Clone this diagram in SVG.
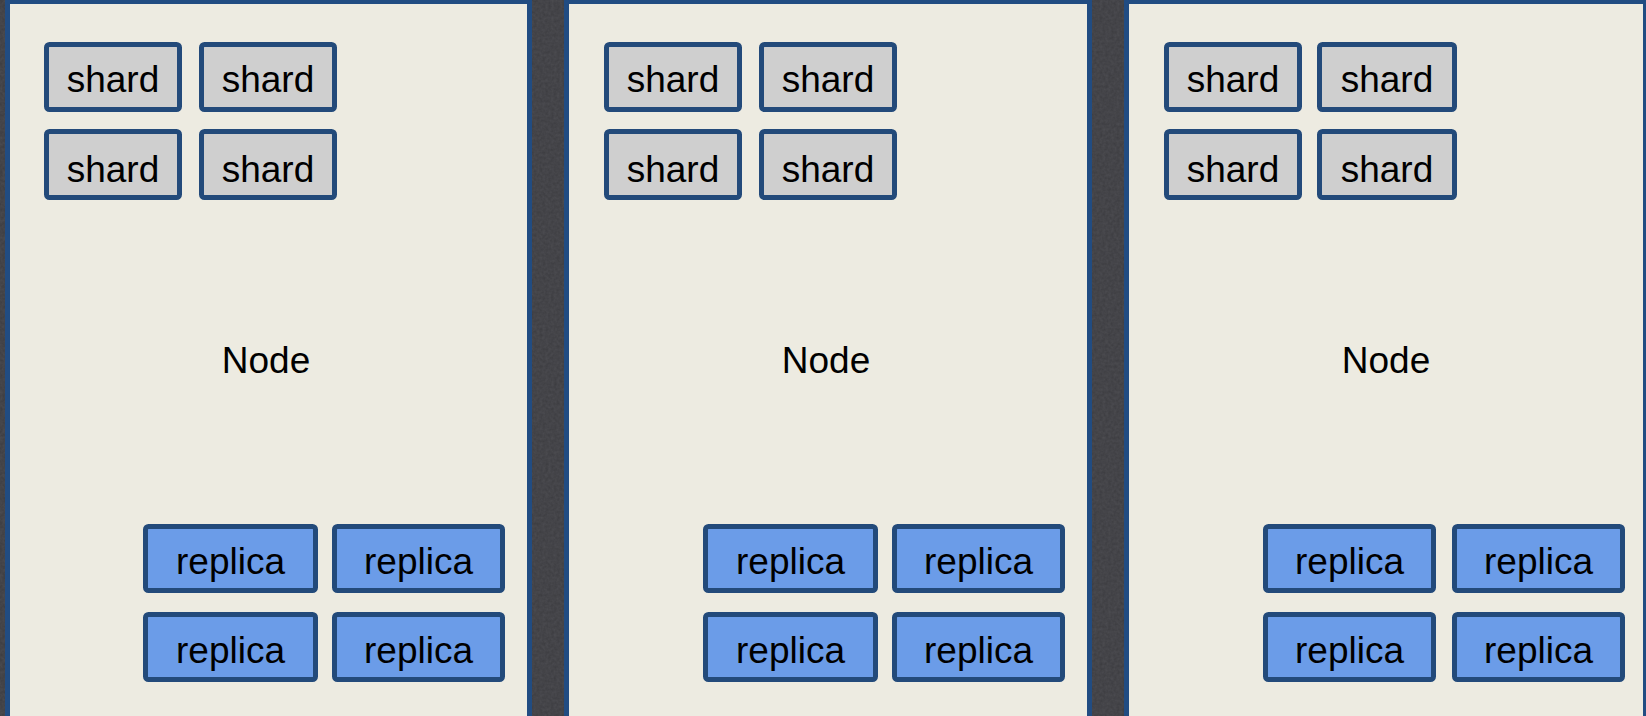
<svg xmlns="http://www.w3.org/2000/svg" width="1646" height="716" viewBox="0 0 1646 716">
  <style>
    .frame { fill: #edebe1; stroke: #214c82; stroke-width: 5; }
    .shard { fill: #cfcfcf; stroke: #234a7a; stroke-width: 5; }
    .replica { fill: #6b9ce8; stroke: #234a7a; stroke-width: 5; }
    text { font-family: "Liberation Sans", Arial, sans-serif; font-size: 37px; fill: #000; text-anchor: middle; }
  </style>
  <defs>
    <filter id="grain" x="0" y="0" width="100%" height="100%">
      <feTurbulence type="fractalNoise" baseFrequency="0.35" numOctaves="2" seed="4" result="n"/>
      <feColorMatrix in="n" type="matrix" values="0 0 0 0 0.16  0 0 0 0 0.16  0 0 0 0 0.18  0 0 0 0.35 0"/>
    </filter>
  </defs>

  <!-- dark textured backdrop -->
  <rect x="0" y="0" width="1646" height="716" fill="#3b3b3f"/>
  <rect x="0" y="0" width="1646" height="716" filter="url(#grain)"/>

  <!-- node 1 -->
  <g id="node-1">
    <rect class="frame" x="7.5" y="1.5" width="522" height="740"/>
    <g id="node-1-shard-1"><rect class="shard" x="46.5" y="44.5" width="133" height="65" rx="3"/><text x="113" y="92">shard</text></g>
    <g id="node-1-shard-2"><rect class="shard" x="201.5" y="44.5" width="133" height="65" rx="3"/><text x="268" y="92">shard</text></g>
    <g id="node-1-shard-3"><rect class="shard" x="46.5" y="131.5" width="133" height="66" rx="3"/><text x="113" y="182">shard</text></g>
    <g id="node-1-shard-4"><rect class="shard" x="201.5" y="131.5" width="133" height="66" rx="3"/><text x="268" y="182">shard</text></g>
    <text x="266" y="373">Node</text>
    <g id="node-1-replica-1"><rect class="replica" x="145.5" y="526.5" width="170" height="64" rx="3"/><text x="230.5" y="574">replica</text></g>
    <g id="node-1-replica-2"><rect class="replica" x="334.5" y="526.5" width="168" height="64" rx="3"/><text x="418.5" y="574">replica</text></g>
    <g id="node-1-replica-3"><rect class="replica" x="145.5" y="614.5" width="170" height="65" rx="3"/><text x="230.5" y="663">replica</text></g>
    <g id="node-1-replica-4"><rect class="replica" x="334.5" y="614.5" width="168" height="65" rx="3"/><text x="418.5" y="663">replica</text></g>
  </g>

  <!-- node 2 -->
  <g id="node-2" transform="translate(560 0)">
    <rect class="frame" x="6.5" y="1.5" width="523" height="740"/>
    <g id="node-2-shard-1"><rect class="shard" x="46.5" y="44.5" width="133" height="65" rx="3"/><text x="113" y="92">shard</text></g>
    <g id="node-2-shard-2"><rect class="shard" x="201.5" y="44.5" width="133" height="65" rx="3"/><text x="268" y="92">shard</text></g>
    <g id="node-2-shard-3"><rect class="shard" x="46.5" y="131.5" width="133" height="66" rx="3"/><text x="113" y="182">shard</text></g>
    <g id="node-2-shard-4"><rect class="shard" x="201.5" y="131.5" width="133" height="66" rx="3"/><text x="268" y="182">shard</text></g>
    <text x="266" y="373">Node</text>
    <g id="node-2-replica-1"><rect class="replica" x="145.5" y="526.5" width="170" height="64" rx="3"/><text x="230.5" y="574">replica</text></g>
    <g id="node-2-replica-2"><rect class="replica" x="334.5" y="526.5" width="168" height="64" rx="3"/><text x="418.5" y="574">replica</text></g>
    <g id="node-2-replica-3"><rect class="replica" x="145.5" y="614.5" width="170" height="65" rx="3"/><text x="230.5" y="663">replica</text></g>
    <g id="node-2-replica-4"><rect class="replica" x="334.5" y="614.5" width="168" height="65" rx="3"/><text x="418.5" y="663">replica</text></g>
  </g>

  <!-- node 3 -->
  <g id="node-3" transform="translate(1120 0)">
    <rect class="frame" x="6.5" y="1.5" width="519" height="740"/>
    <g id="node-3-shard-1"><rect class="shard" x="46.5" y="44.5" width="133" height="65" rx="3"/><text x="113" y="92">shard</text></g>
    <g id="node-3-shard-2"><rect class="shard" x="199.5" y="44.5" width="135" height="65" rx="3"/><text x="267" y="92">shard</text></g>
    <g id="node-3-shard-3"><rect class="shard" x="46.5" y="131.5" width="133" height="66" rx="3"/><text x="113" y="182">shard</text></g>
    <g id="node-3-shard-4"><rect class="shard" x="199.5" y="131.5" width="135" height="66" rx="3"/><text x="267" y="182">shard</text></g>
    <text x="266" y="373">Node</text>
    <g id="node-3-replica-1"><rect class="replica" x="145.5" y="526.5" width="168" height="64" rx="3"/><text x="229.5" y="574">replica</text></g>
    <g id="node-3-replica-2"><rect class="replica" x="334.5" y="526.5" width="168" height="64" rx="3"/><text x="418.5" y="574">replica</text></g>
    <g id="node-3-replica-3"><rect class="replica" x="145.5" y="614.5" width="168" height="65" rx="3"/><text x="229.5" y="663">replica</text></g>
    <g id="node-3-replica-4"><rect class="replica" x="334.5" y="614.5" width="168" height="65" rx="3"/><text x="418.5" y="663">replica</text></g>
  </g>

  <!-- no links between the nodes -->
  <g id="connectors"/>
</svg>
